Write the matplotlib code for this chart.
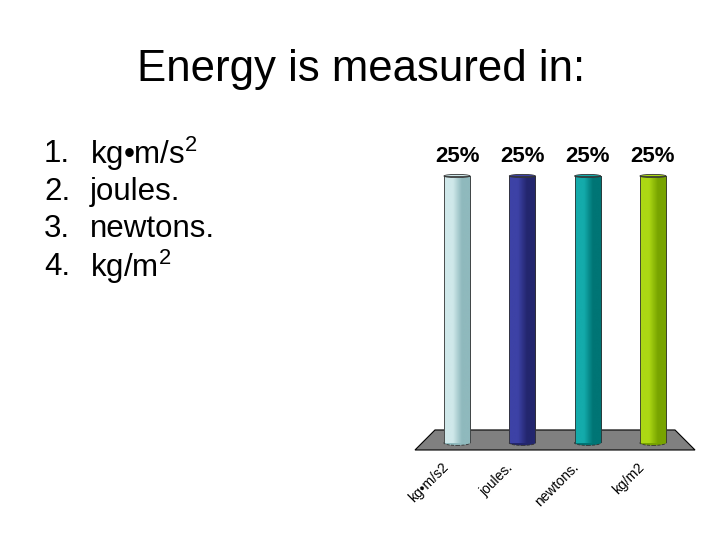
import numpy as np
import matplotlib.pyplot as plt
from matplotlib.colors import LinearSegmentedColormap
from matplotlib.patches import Polygon, Ellipse

plt.rcParams['font.family'] = ['Liberation Sans', 'DejaVu Sans']
plt.rcParams['mathtext.fontset'] = 'custom'
plt.rcParams['mathtext.rm'] = 'Liberation Sans'
plt.rcParams['mathtext.it'] = 'Liberation Sans'

# answer choices and response shares
choices = ['kg•m/s$^2$', 'joules.', 'newtons.', 'kg/m$^2$']
axis_labels = ['kg•m/s2', 'joules.', 'newtons.', 'kg/m2']
percents = [25, 25, 25, 25]
bar_colors = [
    ('#cfe8ea', '#8fb9bd'),
    ('#3d42a6', '#23266e'),
    ('#14abab', '#007575'),
    ('#acd814', '#78a400'),
]

fig = plt.figure(figsize=(7.2, 5.4), dpi=100)

fig.text(361 / 720, 1 - 69 / 540, 'Energy is measured in:', fontsize=31.5,
         ha='center', va='center')

for i, c in enumerate(choices):
    y = 1 - (154 + i * 37.7) / 540
    fig.text(44 / 720, y, f'{i + 1}.', fontsize=22.5, va='center')
    fig.text(90 / 720, y, c, fontsize=22.5, va='center')

# chart area
ax = fig.add_axes([405 / 720, 1 - 443 / 540, 300 / 720, 293 / 540])
ax.set_xlim(-0.796, 3.796)
ax.set_ylim(0, 25 * 293 / 267)
ax.axis('off')

floor = Polygon([(-0.643, -0.655), (3.643, -0.655), (3.337, 1.22), (-0.337, 1.22)],
                closed=True, facecolor='#808080', edgecolor='black', lw=0.8,
                zorder=1, clip_on=False)
ax.add_patch(floor)

x = np.arange(len(percents))
w = 0.4
bars = ax.bar(x, percents, width=w, color='none', edgecolor='#333333',
              lw=0.6, zorder=3)

grad = np.linspace(0, 1, 100).reshape(1, -1)
for i, (b, (c1, c2)) in enumerate(zip(bars, bar_colors)):
    cmap = LinearSegmentedColormap.from_list(f'c{i}', [c1, c1, c2, c2])
    h = b.get_height()
    im = ax.imshow(grad, cmap=cmap, aspect='auto', zorder=2,
                   extent=[b.get_x(), b.get_x() + w, 0, h])
    im.set_clip_path(b)
    # rounded ends of the cylinder
    ax.add_patch(Ellipse((x[i], 0), w, 0.45, facecolor=c2, edgecolor='#333333',
                         lw=0.6, ls='--', zorder=1.5, clip_on=False))
    ax.add_patch(Ellipse((x[i], h), w, 0.3, facecolor=c1, edgecolor='#333333',
                         lw=0.6, zorder=2.5))
    ax.annotate(f'{percents[i]}%', (x[i], h), xytext=(0, 14),
                textcoords='offset points', ha='center', va='center',
                fontsize=16, fontweight='bold')
    ax.annotate(axis_labels[i], (x[i], 0), xytext=(-8, -16),
                textcoords='offset points', ha='right', va='center',
                rotation=45, rotation_mode='anchor', fontsize=10,
                annotation_clip=False)

fig.savefig('out.png', dpi=100)
